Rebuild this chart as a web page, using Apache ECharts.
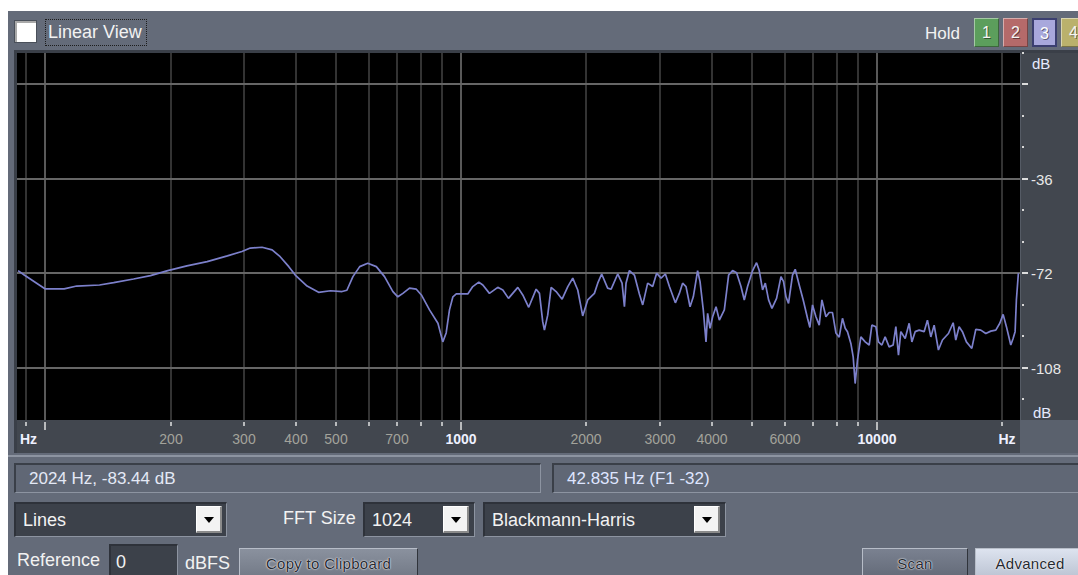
<!DOCTYPE html>
<html>
<head>
<meta charset="utf-8">
<title>Frequency Analysis</title>
<script src="https://cdn.jsdelivr.net/npm/echarts@6.0.0/dist/echarts.min.js"></script>
<style>
  html, body { margin:0; padding:0; width:1078px; height:575px; overflow:hidden; background:#fff;
    font-family:"Liberation Sans", Arial, sans-serif; }
  .a { position:absolute; box-sizing:border-box; white-space:nowrap; }
  #panel { left:8px; top:11px; width:1070px; height:564px; background:#646b79; }
  .txt { color:#f2f2f2; font-size:18px; }
  #check { left:14px; top:20px; width:23px; height:23px; background:#fff; box-shadow: inset 2px 2px 0 #a9a9a9; border:1px solid #4a505a; }
  #linView { left:45px; top:19px; width:102px; height:27px; border:1px dotted #1c1c1c; padding:2px 0 0 2px; }
  .hold { top:18px; width:25px; height:29px; font-size:16px; text-align:center; line-height:28px; color:#f4f4f4;
    text-shadow:1px 1px 0 rgba(0,0,0,0.45); border-top:1px solid rgba(255,255,255,0.45); border-left:1px solid rgba(255,255,255,0.45);
    border-right:1px solid rgba(0,0,0,0.35); border-bottom:1px solid rgba(0,0,0,0.35); }
  #frame { left:14px; top:50px; width:1064px; height:403px; background:#3a3f48; }
  #yStrip { left:1020px; top:53px; width:58px; height:367px; background:#42474f; border-left:1px solid #555b65; }
  #xStrip { left:17px; top:420px; width:1003px; height:33px; background:#42474f; }
  #cornerBox { left:1020px; top:420px; width:58px; height:33px; background:#5a616d; }
  #sepLight { left:8px; top:455px; width:1070px; height:2px; background:#8d94a1; }
  .status { top:463px; height:30px; border-top:2px solid #3a3f48; border-left:2px solid #3a3f48;
    border-bottom:1px solid #8d94a1; border-right:1px solid #8d94a1; background:#606775; font-size:17px; line-height:27px; padding-left:13px; color:#e4e9f6; }
  .drop { top:502px; height:35px; background:#3c414a; border-top:2px solid #2e323a; border-left:2px solid #2e323a;
    border-bottom:1px solid #8d94a1; border-right:1px solid #8d94a1; color:#f2f2f2; font-size:18px; line-height:33px; padding-left:7px; }
  .arrow { top:506px; width:26px; height:27px; background:#f3f3f3; border-top:1px solid #fff; border-left:1px solid #fff;
    border-bottom:2px solid #8a8a8a; border-right:2px solid #8a8a8a; }
  .arrow::after { content:""; position:absolute; left:7px; top:10px; width:0; height:0;
    border-left:5px solid transparent; border-right:5px solid transparent; border-top:6px solid #000; }
  .btn { top:548px; height:30px; font-size:15px; text-align:center; line-height:29px; color:#262a31; letter-spacing:0.3px;
    text-shadow:0 0 2px #fff, 0 0 1px #fff; border-top:1px solid #b7bdc8; border-left:1px solid #b7bdc8;
    border-right:1px solid #30343b; border-bottom:1px solid #30343b; }
  #chart { left:0; top:0; width:1078px; height:575px; z-index:5; }
</style>
</head>
<body>
<div class="a" id="panel"></div>
<div class="a" id="check"></div>
<div class="a txt" id="linView">Linear View</div>
<div class="a txt" style="left:925px; top:24px; font-size:17px;">Hold</div>
<div class="a hold" style="left:974px; background:#5c9e5c;">1</div>
<div class="a hold" style="left:1003px; background:#b56a6a;">2</div>
<div class="a hold" style="left:1032px; background:#a8a8dc; border:2px solid #3b3f70; color:#fff;">3</div>
<div class="a hold" style="left:1061px; background:#bab16c;">4</div>

<div class="a" id="frame"></div>
<div class="a" id="yStrip"></div>
<div class="a" id="xStrip"></div>
<div class="a" id="cornerBox"></div>
<div class="a" id="sepLight"></div>

<div class="a status" style="left:14px; width:527px;">2024 Hz, -83.44 dB</div>
<div class="a status" style="left:552px; width:530px; color:#dfe5ff;">42.835 Hz (F1 -32)</div>

<div class="a drop" style="left:14px; width:213px;">Lines</div>
<div class="a arrow" style="left:196px;"></div>
<div class="a txt" style="left:283px; top:508px;">FFT Size</div>
<div class="a drop" style="left:363px; width:112px;">1024</div>
<div class="a arrow" style="left:443px;"></div>
<div class="a drop" style="left:483px; width:243px;">Blackmann-Harris</div>
<div class="a arrow" style="left:694px;"></div>

<div class="a txt" style="left:17px; top:550px;">Reference</div>
<div class="a drop" style="left:109px; top:544px; width:69px; height:33px; padding-left:5px;">0</div>
<div class="a txt" style="left:185px; top:553px;">dBFS</div>
<div class="a btn" style="left:239px; width:179px; background:linear-gradient(#8a919e,#737a87);">Copy to Clipboard</div>
<div class="a btn" style="left:862px; width:106px; background:linear-gradient(#7a8190,#646b79);">Scan</div>
<div class="a btn" style="left:975px; width:110px; background:linear-gradient(#dde3ef,#bcc4d3);">Advanced</div>

<div class="a" id="chart"></div>

<script>
// Spectrum bins as frequency (Hz) / level (dB)
const freqHz = [
  86, 89, 100, 111, 119, 135, 146, 163, 179, 197,
  219, 245, 274, 297, 311, 332, 351, 367, 385, 399,
  426, 454, 485, 517, 531, 549, 570, 596, 625, 654,
  685, 704, 724, 751, 780, 802, 839, 879, 903, 920,
  937, 955, 973, 1037, 1066, 1102, 1127, 1169, 1224, 1259,
  1299, 1368, 1406, 1453, 1514, 1542, 1570, 1585, 1614, 1645,
  1691, 1748, 1804, 1854, 1906, 1959, 2014, 2090, 2129, 2176,
  2249, 2293, 2378, 2436, 2468, 2490, 2537, 2608, 2681, 2731,
  2807, 2886, 2950, 3023, 3096, 3166, 3272, 3345, 3406, 3471,
  3549, 3614, 3701, 3751, 3819, 3877, 3912, 3964, 4022, 4098,
  4174, 4291, 4394, 4492, 4592, 4705, 4792, 4880, 5018, 5129,
  5206, 5303, 5383, 5482, 5585, 5730, 5871, 5956, 6036, 6122,
  6259, 6353, 6495, 6640, 6801, 6891, 6992, 7124, 7256, 7365,
  7530, 7668, 7809, 7958, 8104, 8253, 8378, 8485, 8645, 8757,
  8853, 8966, 9137, 9358, 9568, 9712, 9929, 10072, 10264, 10452,
  10686, 10925, 11090, 11252, 11400, 11677, 11938, 12118, 12341, 12617,
  12970, 13208, 13460, 13708, 14037, 14355, 14838, 15230, 15453, 15740,
  16030, 16389, 16887, 17264, 17749, 18247, 18759, 19286, 19717, 20083,
  20453, 20953, 21225, 21460, 21614, 21853
];
const levelDb = [
  -71.0, -72.7, -78.0, -78.0, -76.9, -76.5, -75.6, -74.2, -72.9, -71.0,
  -69.2, -67.6, -65.4, -63.7, -62.4, -62.1, -63.1, -65.7, -69.5, -72.7,
  -76.9, -79.3, -78.7, -79.0, -78.5, -73.3, -69.5, -68.2, -69.5, -73.3,
  -79.0, -81.0, -79.7, -77.7, -78.1, -80.3, -86.0, -91.1, -98.2, -94.8,
  -86.0, -81.0, -79.9, -79.9, -77.1, -75.4, -76.5, -79.7, -77.4, -78.4,
  -81.6, -77.4, -80.3, -85.0, -78.1, -79.7, -90.5, -93.7, -88.0, -77.4,
  -79.0, -81.9, -77.1, -73.9, -78.4, -88.3, -82.2, -79.7, -75.8, -72.3,
  -77.7, -78.1, -72.3, -75.8, -84.8, -75.8, -71.0, -72.7, -79.9, -84.1,
  -75.8, -77.1, -72.0, -73.9, -72.3, -77.1, -83.3, -79.7, -75.8, -77.1,
  -84.8, -81.0, -71.0, -75.2, -86.0, -98.2, -87.3, -93.0, -88.6, -84.8,
  -89.9, -86.0, -72.7, -71.0, -71.8, -77.1, -82.2, -77.1, -71.0, -68.0,
  -71.0, -78.4, -75.8, -82.2, -85.4, -81.6, -73.3, -75.2, -81.0, -83.5,
  -72.7, -70.5, -76.5, -82.2, -89.2, -92.7, -84.1, -88.6, -91.8, -82.2,
  -88.6, -87.0, -87.0, -94.8, -96.4, -89.2, -93.0, -94.3, -98.8, -103.9,
  -114.1, -105.2, -96.3, -98.2, -99.4, -91.8, -92.4, -98.2, -99.4, -96.3,
  -100.1, -99.4, -92.4, -103.3, -94.3, -96.9, -91.1, -98.2, -94.3, -93.7,
  -94.3, -89.9, -96.3, -91.8, -101.3, -97.5, -95.0, -90.9, -97.5, -92.4,
  -94.3, -98.2, -100.7, -93.4, -93.7, -95.0, -94.1, -93.7, -91.1, -87.7,
  -92.4, -99.4, -96.9, -94.3, -82.2, -72.0
];

// Frequency axis: grid/tick positions and their labels
const freqTicks = [90, 100, 200, 300, 400, 500, 600, 700, 800, 900, 1000,
  2000, 3000, 4000, 5000, 6000, 7000, 8000, 9000, 10000, 20000];
const freqTickLabels = ['Hz', '', '200', '300', '400', '500', '', '700', '', '', '1000',
  '2000', '3000', '4000', '', '6000', '', '', '', '10000', 'Hz'];

// Level axis: ticks every 12 dB, labels on the 36 dB lines
const levelTicks = [12, 0, -12, -24, -36, -48, -60, -72, -84, -96, -108, -120];
const levelTickLabels = ['', '', '', '', '-36', '', '', '-72', '', '', '-108', ''];

const freqRange = [85.5, 22050];
const levelRange = [-128, 12];

const FONT = '"Liberation Sans", Arial, sans-serif';

function isDecade(f) {
  const l = Math.log10(f);
  return Math.abs(l - Math.round(l)) < 1e-9;
}

function renderFreqTick(params, api) {
  const f = api.value(0);
  const top = api.coord([f, levelRange[1]]);
  const bot = api.coord([f, levelRange[0]]);
  const x = Math.round(top[0]);
  const major = isDecade(f);
  const label = freqTickLabels[params.dataIndex];
  const children = [
    { type: 'line', shape: { x1: x, y1: top[1], x2: x, y2: bot[1] },
      style: { stroke: major ? '#595959' : '#333333', lineWidth: 2 } },
    { type: 'line', shape: { x1: x, y1: bot[1] + 2, x2: x, y2: bot[1] + (major ? 10 : 6) },
      style: { stroke: '#e2e2e2', lineWidth: 1.5 } }
  ];
  if (label) {
    let lx = x, align = 'center';
    if (label === 'Hz') {
      if (params.dataIndex === 0) { lx = x - 6; align = 'left'; }
      else { lx = x + 5; }
    }
    const bright = major || label === 'Hz';
    children.push({
      type: 'text',
      x: lx, y: bot[1] + 19,
      style: {
        text: label, fill: bright ? '#eef1ff' : '#a3a39b',
        font: (bright ? 'bold ' : '') + '14px ' + FONT,
        align: align, verticalAlign: 'middle', textAlign: align, textVerticalAlign: 'middle'
      }
    });
  }
  return { type: 'group', children: children };
}

function renderLevelTick(params, api) {
  const v = api.value(1);
  const right = api.coord([freqRange[1], v]);
  const left = api.coord([freqRange[0], v]);
  const y = Math.round(right[1]);
  const major = v % 36 === 0;
  const label = levelTickLabels[params.dataIndex];
  const children = [];
  if (major) {
    children.push({ type: 'line', shape: { x1: left[0], y1: y, x2: right[0], y2: y },
      style: { stroke: '#666666', lineWidth: 2 } });
    children.push({ type: 'line', shape: { x1: right[0] + 2, y1: y, x2: right[0] + 8, y2: y },
      style: { stroke: '#dcdcdc', lineWidth: 2 } });
  } else {
    children.push({ type: 'rect', shape: { x: right[0] + 2, y: y - 1, width: 2, height: 2 },
      style: { fill: '#d8d8d8' } });
  }
  if (label) {
    children.push({
      type: 'text', x: right[0] + 11, y: y,
      style: { text: label, fill: '#e8e8e8', font: '15px ' + FONT,
        align: 'left', verticalAlign: 'middle', textAlign: 'left', textVerticalAlign: 'middle' }
    });
  }
  return { type: 'group', children: children };
}

const chart = echarts.init(document.getElementById('chart'), null, { renderer: 'svg' });
chart.setOption({
  animation: false,
  backgroundColor: 'transparent',
  grid: { left: 17, top: 53, width: 1003, height: 367, show: true, backgroundColor: '#000', borderWidth: 0 },
  xAxis: {
    type: 'log', logBase: 10, min: freqRange[0], max: freqRange[1],
    axisLine: { show: false }, axisTick: { show: false }, axisLabel: { show: false },
    splitLine: { show: false }, minorTick: { show: false }, minorSplitLine: { show: false }
  },
  yAxis: {
    type: 'value', min: levelRange[0], max: levelRange[1], position: 'right',
    axisLine: { show: false }, axisTick: { show: false }, axisLabel: { show: false },
    splitLine: { show: false }
  },
  graphic: [
    { type: 'text', left: 1032, top: 56, silent: true,
      style: { text: 'dB', fill: '#e6ebff', font: '15px ' + FONT } },
    { type: 'text', left: 1033, top: 405, silent: true,
      style: { text: 'dB', fill: '#e6ebff', font: '15px ' + FONT } }
  ],
  series: [
    { type: 'custom', name: 'freqGrid', silent: true, clip: false, z: 1,
      data: freqTicks.map(f => [f, levelRange[0]]), renderItem: renderFreqTick },
    { type: 'custom', name: 'levelGrid', silent: true, clip: false, z: 1,
      data: levelTicks.map(v => [freqRange[1], v]), renderItem: renderLevelTick },
    { type: 'line', name: 'Spectrum', silent: true, z: 3, showSymbol: false, symbol: 'none',
      data: freqHz.map((f, i) => [f, levelDb[i]]),
      lineStyle: { color: '#7c80cb', width: 1.7 } }
  ]
});
</script>
</body>
</html>
